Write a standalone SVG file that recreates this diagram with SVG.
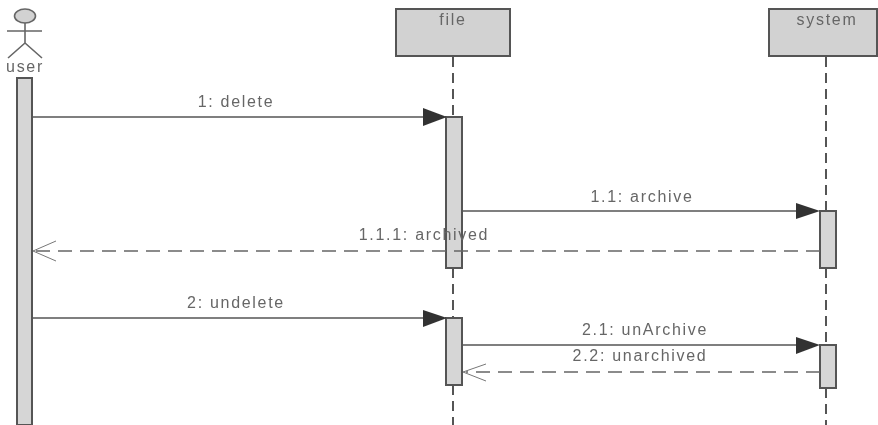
<svg xmlns="http://www.w3.org/2000/svg" width="878" height="425" viewBox="0 0 878 425">
<style>
.box{fill:#d2d2d2;stroke:#555;stroke-width:2}
.life{fill:none;stroke:#555;stroke-width:2;stroke-dasharray:10 6}
.act{fill:#d6d6d6;stroke:#555;stroke-width:2}
.msg{fill:none;stroke:#555;stroke-width:1.6}
.ret{fill:none;stroke:#666;stroke-width:1.5;stroke-dasharray:14 8}
.open{fill:none;stroke:#777;stroke-width:1}
.head{fill:#333}
.actor{fill:none;stroke:#666;stroke-width:1.6}
text{font-family:"Liberation Sans",Arial,sans-serif;font-size:16px;fill:#666;letter-spacing:1.7px;text-anchor:middle}
</style>
<defs><filter id="soft" filterUnits="userSpaceOnUse" x="0" y="0" width="878" height="425"><feGaussianBlur stdDeviation="0.5"/></filter></defs>
<rect width="878" height="425" fill="#fff"/>
<g filter="url(#soft)">
<g id="lifelines">
<path class="life" d="M453 57V117M453 268V318M453 385V425"/>
<path class="life" d="M826 57V211M826 268V345M826 388V425"/>
</g>
<g id="user">
<ellipse cx="25" cy="16" rx="10.5" ry="7" fill="#d2d2d2" stroke="#666" stroke-width="1.6"/>
<path class="actor" d="M25 23V43M7 31H42M8 58L25 43L42 58"/>
<text x="25" y="72">user</text>
<rect class="act" x="17" y="78" width="15" height="347"/>
</g>
<g id="file">
<rect class="box" x="396" y="9" width="114" height="47"/>
<text x="453" y="25">file</text>
<rect class="act" x="446" y="117" width="16" height="151"/>
<rect class="act" x="446" y="318" width="16" height="67"/>
</g>
<g id="system">
<rect class="box" x="769" y="9" width="108" height="47"/>
<text x="827" y="25">system</text>
<rect class="act" x="820" y="211" width="16" height="57"/>
<rect class="act" x="820" y="345" width="16" height="43"/>
</g>
<g id="connectors">
<path class="msg" d="M32 117H426"/>
<path class="head" d="M423 108L447 117L423 126Z"/>
<path class="msg" d="M462 211H798"/>
<path class="head" d="M796 203L820 211L796 219Z"/>
<path class="ret" d="M820 251H36"/>
<path class="open" d="M56 241L33 251L56 261"/>
<path class="msg" d="M32 318H426"/>
<path class="head" d="M423 310L447 318L423 327Z"/>
<path class="msg" d="M462 345H798"/>
<path class="head" d="M796 337L820 345L796 354Z"/>
<path class="ret" d="M820 372H466"/>
<path class="open" d="M486 364L463 372L486 381"/>
</g>
<g id="labels">
<text x="236" y="107">1: delete</text>
<text x="642" y="202">1.1: archive</text>
<text x="424" y="240">1.1.1: archived</text>
<text x="236" y="308">2: undelete</text>
<text x="645" y="335">2.1: unArchive</text>
<text x="640" y="361">2.2: unarchived</text>
</g>
</g>
</svg>
